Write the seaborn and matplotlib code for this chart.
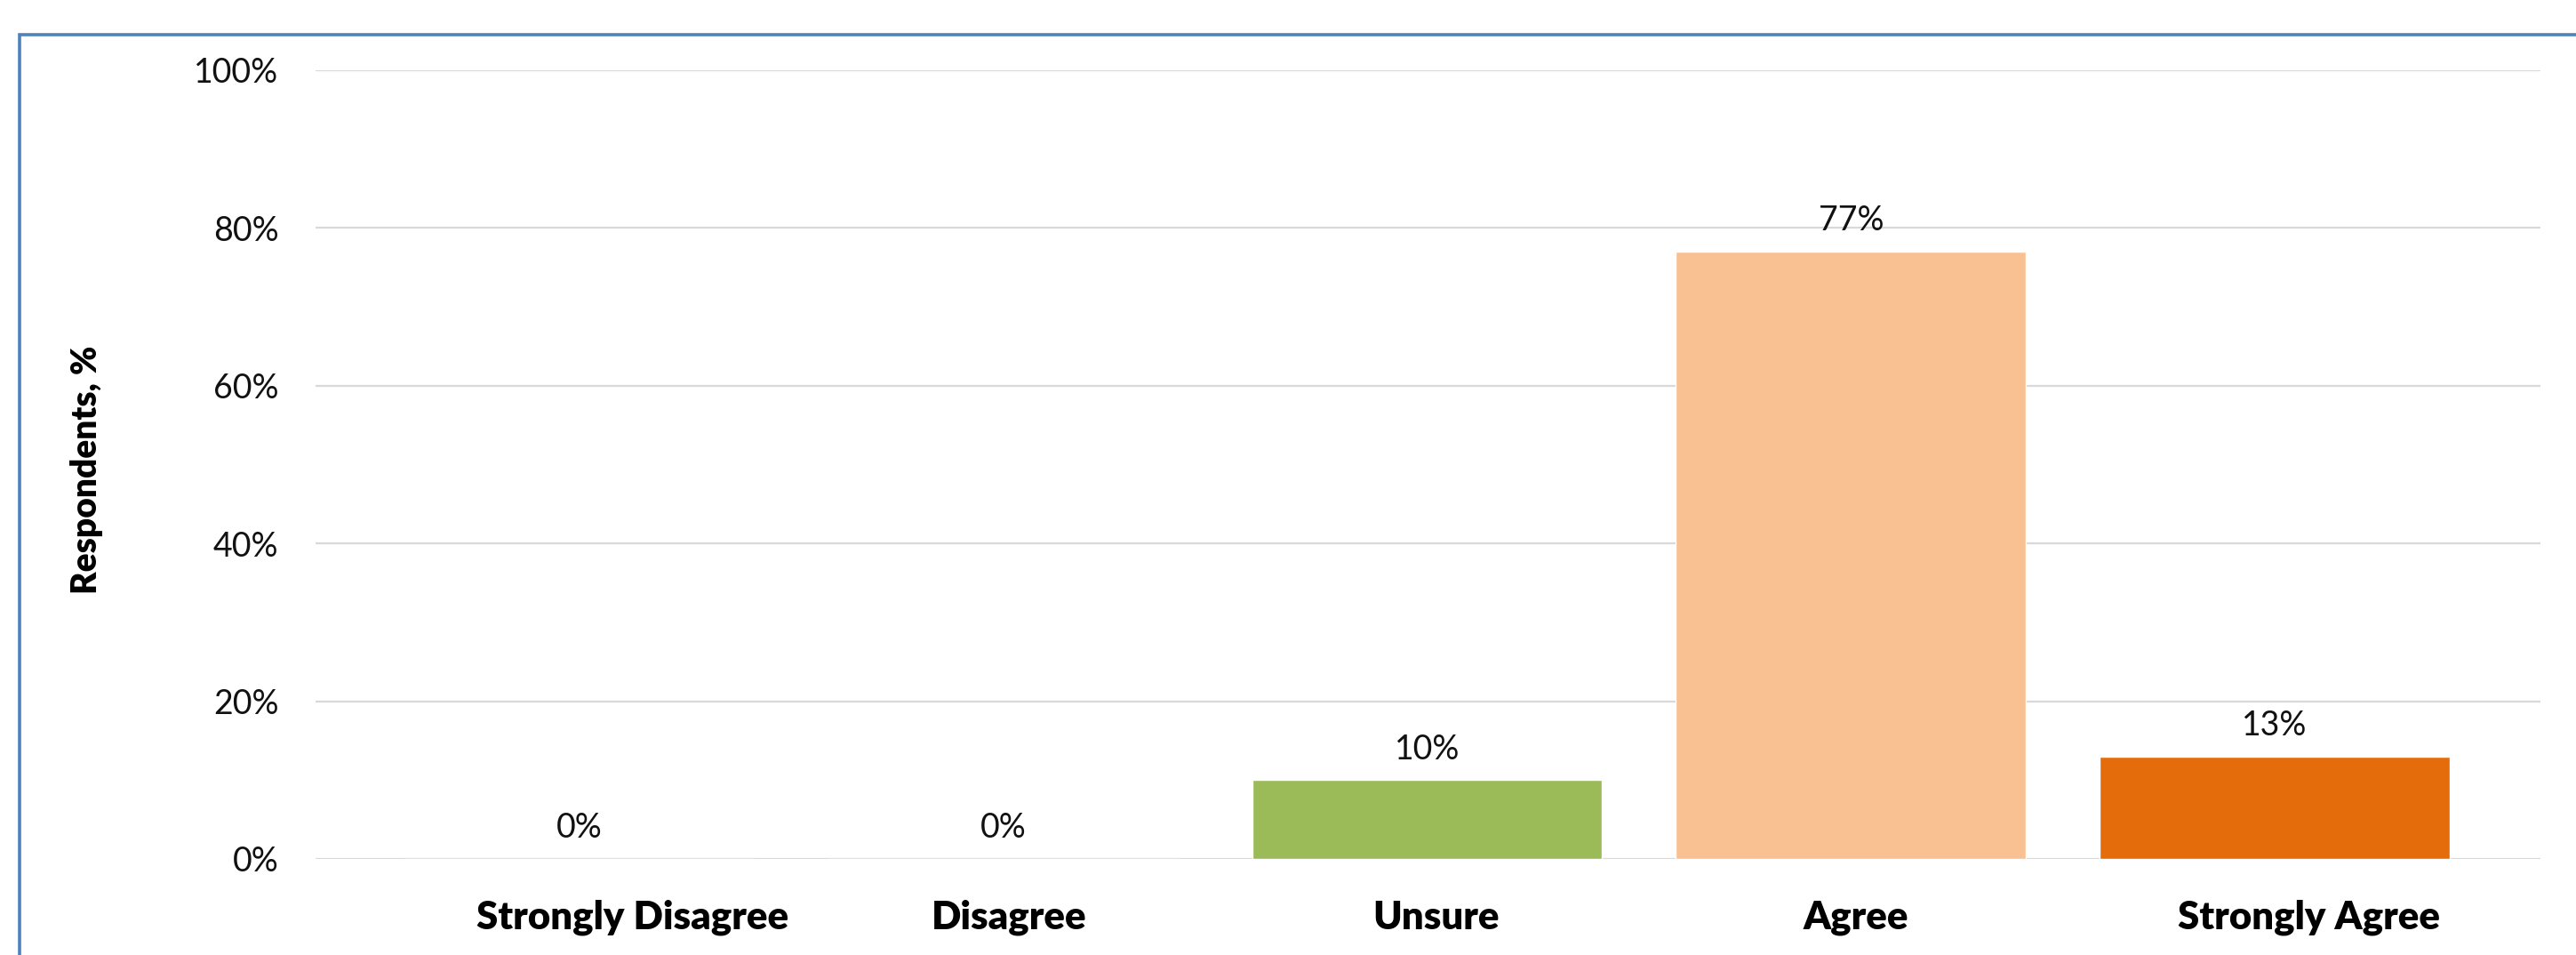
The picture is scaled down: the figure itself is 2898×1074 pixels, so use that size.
import matplotlib
matplotlib.use("Agg")
import matplotlib.pyplot as plt
from matplotlib.patches import Rectangle
from matplotlib.ticker import FuncFormatter
from matplotlib.transforms import ScaledTranslation
import pandas as pd
import seaborn as sns

# Survey responses (share of respondents, %)
categories = ["Strongly Disagree", "Disagree", "Unsure", "Agree", "Strongly Agree"]
percent = [0, 0, 10, 77, 13]
bar_colors = ["#4F81BD", "#C0504D", "#9BBB59", "#F9C191", "#E46C0A"]
y_ticks = [0, 20, 40, 60, 80, 100]

sns.set_theme(style="white")
plt.rcParams["font.family"] = ["Lato", "DejaVu Sans"]

W, H, DPI = 2898, 1074, 100
fig = plt.figure(figsize=(W / DPI, H / DPI), dpi=DPI)
ax = fig.add_axes([355 / W, 1 - 966 / H, (2858 - 355) / W, (966 - 79) / H])

df = pd.DataFrame({"Response": categories, "Percent": percent})
sns.barplot(data=df, x="Response", y="Percent", hue="Response",
            palette=dict(zip(categories, bar_colors)), width=0.826,
            dodge=False, legend=False, saturation=1, ax=ax)

ax.set_xlim(-0.623, 4.627)
ax.set_ylim(0, 100)
ax.set_yticks(y_ticks)
ax.yaxis.set_major_formatter(FuncFormatter(lambda v, _: f"{v:.0f}%"))
ax.grid(axis="y", color="#D9D9D9", linewidth=1.6)
ax.set_axisbelow(True)
for s in ax.spines.values():
    s.set_visible(False)

ax.tick_params(axis="y", length=0, pad=30, labelsize=27, labelcolor="#111111")
ax.tick_params(axis="x", length=0, pad=33, labelsize=31.5)
# category labels sit slightly right of the bar centres
label_shift_px = [60, 6, 10, 6, 38]
for lbl, dx in zip(ax.get_xticklabels(), label_shift_px):
    lbl.set_fontweight("heavy")
    lbl.set_color("black")
    lbl.set_transform(lbl.get_transform() +
                      ScaledTranslation(dx / DPI, 0, fig.dpi_scale_trans))

ax.set_xlabel("")
ax.set_ylabel("")
fig.text(98 / W, 1 - 528 / H, "Respondents, %", rotation=90, ha="center",
         va="center", fontsize=28, fontweight="heavy", color="black")

for container in ax.containers:
    ax.bar_label(container, fmt="{:.0f}%", padding=12, fontsize=27,
                 color="#111111")

# Chart frame
fig.patches.append(Rectangle((22 / W, -0.05), 1.2, 1 - 38.5 / H + 0.05,
                             transform=fig.transFigure, fill=False,
                             edgecolor="#4F81BD", linewidth=2.6))

fig.savefig("out.png", dpi=DPI, facecolor="white")
